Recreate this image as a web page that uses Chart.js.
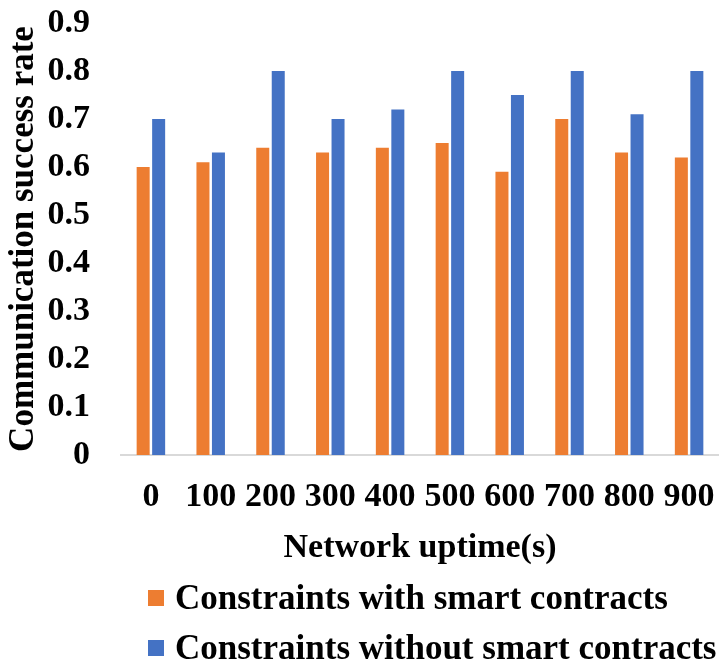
<!DOCTYPE html>
<html>
<head>
<meta charset="utf-8">
<script src="https://cdn.jsdelivr.net/npm/chart.js@4.4.1/dist/chart.umd.min.js"></script>
<style>
  html, body { margin: 0; padding: 0; background: #fff; }
  #wrap { position: relative; width: 719px; height: 665px; overflow: hidden; }
  canvas { display: block; }
  #legend {
    position: absolute; left: 148px; top: 573px;
    font-family: "Liberation Serif", "Times New Roman", serif;
    font-weight: bold; font-size: 35px; color: #000;
  }
  #legend .item { display: flex; align-items: center; height: 50px; white-space: nowrap; }
  #legend .box { width: 16px; height: 16px; margin-right: 11px; flex: none; }
</style>
</head>
<body>
<div id="wrap">
  <canvas id="chart" width="719" height="665"></canvas>
  <div id="legend"></div>
</div>
<script>
// Network uptime in seconds
const uptimes = ['0', '100', '200', '300', '400', '500', '600', '700', '800', '900'];

// Communication success rate per uptime
const withContracts    = [0.60, 0.61, 0.64, 0.63, 0.64, 0.65, 0.59, 0.70, 0.63, 0.62];
const withoutContracts = [0.70, 0.63, 0.80, 0.70, 0.72, 0.80, 0.75, 0.80, 0.71, 0.80];

const seriesNames  = ['Constraints with smart contracts', 'Constraints without smart contracts'];
const seriesColors = ['#ED7D31', '#4472C4'];

const serif = '"Liberation Serif", "Times New Roman", serif';

const chart = new Chart(document.getElementById('chart'), {
  type: 'bar',
  data: {
    labels: uptimes,
    datasets: [
      { label: seriesNames[0], data: withContracts, backgroundColor: seriesColors[0] },
      { label: seriesNames[1], data: withoutContracts, backgroundColor: seriesColors[1] }
    ]
  },
  options: {
    responsive: false,
    animation: false,
    layout: { padding: { top: 23, right: -2, left: 0, bottom: 100 } },
    datasets: { bar: { categoryPercentage: 0.518, barPercentage: 0.84 } },
    plugins: { legend: { display: false }, tooltip: { enabled: false } },
    scales: {
      x: {
        afterFit: s => { s.height = 110; s.paddingLeft = 0; s.paddingRight = 0; },
        grid: { display: false, drawTicks: false },
        border: { display: true, color: '#d9d9d9', width: 2 },
        ticks: { color: '#000', font: { family: serif, weight: 'bold', size: 34 }, padding: 22, maxRotation: 0, autoSkip: false },
        title: { display: true, text: 'Network uptime(s)', color: '#000', font: { family: serif, weight: 'bold', size: 34 }, padding: { top: 0, bottom: -4 } }
      },
      y: {
        afterFit: s => { s.width = 121; s.paddingTop = 0; s.paddingBottom = 0; },
        min: 0, max: 0.9,
        grid: { display: false, drawTicks: false },
        border: { display: false },
        ticks: { stepSize: 0.1, color: '#000', font: { family: serif, weight: 'bold', size: 34 }, padding: 31,
                 callback: v => Math.round(v * 10) === 0 ? '0' : (Math.round(v * 10) / 10).toFixed(1) },
        title: { display: true, text: 'Communication success rate', color: '#000', font: { family: serif, weight: 'bold', size: 35 }, padding: { top: 3, bottom: 0 } }
      }
    }
  }
});

// Legend stacked in two rows below the axis title
const legend = document.getElementById('legend');
seriesNames.forEach((name, i) => {
  const item = document.createElement('div');
  item.className = 'item';
  const box = document.createElement('span');
  box.className = 'box';
  box.style.background = seriesColors[i];
  item.appendChild(box);
  item.appendChild(document.createTextNode(name));
  legend.appendChild(item);
});
</script>
</body>
</html>
